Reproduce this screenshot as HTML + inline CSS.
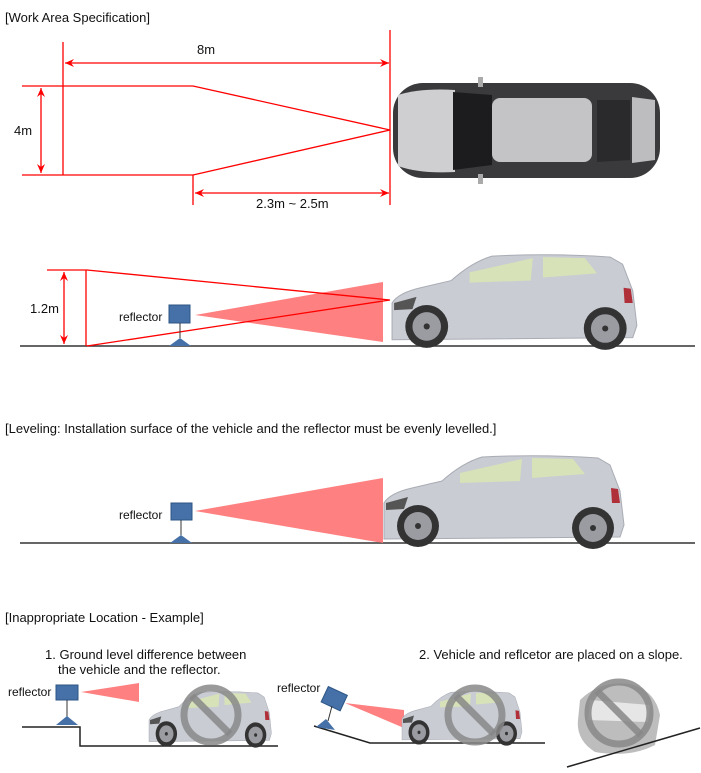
<!DOCTYPE html>
<html><head><meta charset="utf-8"><style>
html,body{margin:0;padding:0;background:#fff;}
svg{display:block;font-family:"Liberation Sans",sans-serif;}
</style></head><body>
<svg width="701" height="773" viewBox="0 0 701 773" xmlns="http://www.w3.org/2000/svg">
<defs>
<marker id="ah" markerWidth="10" markerHeight="8" refX="9" refY="4" orient="auto-start-reverse" markerUnits="userSpaceOnUse">
<path d="M0,0 L9,4 L0,8 L3,4 Z" fill="#f00"/></marker>
<g id="car">
<path d="M2,86 L2,50 Q8,40 30,35 L60,28 Q80,10 100,4 Q160,1 216,5 L228,12 L238,38 L242,72 L238,84 Z" fill="#c9ccd3" stroke="#a9acb4" stroke-width="1"/>
<path d="M78,20 L140,6 L138,28 L78,30 Z" fill="#d7e2b8"/>
<path d="M150,5 L191,6 L203,21 L150,25 Z" fill="#d7e2b8"/>
<path d="M229,35 L236,36 L238,50 L230,50 Z" fill="#b0303a"/>
<path d="M4,50 L26,44 L22,56 L4,57 Z" fill="#555"/>
<circle cx="36" cy="73" r="21" fill="#333"/><circle cx="36" cy="73" r="14" fill="#9a9ca2"/><circle cx="36" cy="73" r="3" fill="#333"/>
<circle cx="211" cy="75" r="21" fill="#333"/><circle cx="211" cy="75" r="14" fill="#9a9ca2"/><circle cx="211" cy="75" r="3" fill="#333"/>
</g>
</defs>
<g font-size="13" fill="#111">
<text x="5" y="22">[Work Area Specification]</text>
<text x="197" y="54">8m</text>
<text x="14" y="135">4m</text>
<text x="256" y="208">2.3m ~ 2.5m</text>
<text x="30" y="313">1.2m</text>
<text x="119" y="321" font-size="12">reflector</text>
<text x="5" y="433">[Leveling: Installation surface of the vehicle and the reflector must be evenly levelled.]</text>
<text x="119" y="519" font-size="12">reflector</text>
<text x="5" y="622">[Inappropriate Location - Example]</text>
<text x="45" y="659">1. Ground level difference between</text>
<text x="58" y="674">the vehicle and the reflector.</text>
<text x="419" y="659">2. Vehicle and reflcetor are placed on a slope.</text>
<text x="8" y="696" font-size="12">reflector</text>
<text x="277" y="692" font-size="12">reflector</text>
</g>
<!-- top view lines -->
<g stroke="#f00" stroke-width="1.3" fill="none">
<line x1="63" y1="42" x2="63" y2="175"/>
<line x1="390" y1="30" x2="390" y2="205"/>
<line x1="65" y1="63" x2="389" y2="63" marker-start="url(#ah)" marker-end="url(#ah)"/>
<polyline points="22,86 193,86 390,130 193,175 22,175"/>
<line x1="41" y1="88" x2="41" y2="173" marker-start="url(#ah)" marker-end="url(#ah)"/>
<line x1="193" y1="175" x2="193" y2="205"/>
<line x1="195" y1="193" x2="389" y2="193" marker-start="url(#ah)" marker-end="url(#ah)"/>
</g>
<!-- top view car -->
<g>
<rect x="393" y="83" width="267" height="95" rx="30" fill="#3a3a3c"/>
<path d="M398,95 Q420,88 455,90 L455,172 Q420,174 398,166 Z" fill="#cfcfd1"/>
<path d="M453,92 L492,95 L492,165 L453,170 Z" fill="#1c1c1e"/>
<rect x="492" y="98" width="100" height="64" rx="8" fill="#c4c4c6"/>
<path d="M597,100 L630,100 L630,160 L597,162 Z" fill="#2a2a2c"/>
<path d="M632,97 L655,100 L655,160 L632,163 Z" fill="#bdbdbf"/>
<rect x="478" y="77" width="5" height="10" fill="#aaa"/><rect x="478" y="174" width="5" height="10" fill="#aaa"/>
</g>
<!-- side view 1 -->
<line x1="20" y1="346" x2="695" y2="346" stroke="#333" stroke-width="1.5"/>
<polygon points="195,315 383,282 383,342" fill="#ff8080"/>
<g stroke="#f00" stroke-width="1.3" fill="none">
<polyline points="47,270 87,270 390,300 87,346"/>
<line x1="86" y1="270" x2="86" y2="346"/>
<line x1="64" y1="272" x2="64" y2="344" marker-start="url(#ah)" marker-end="url(#ah)"/>
</g>
<rect x="169" y="305" width="21" height="18" fill="#4571a8" stroke="#2d5585"/>
<line x1="180" y1="323" x2="180" y2="338" stroke="#333"/>
<polygon points="169,346 180,338 191,346" fill="#4571a8"/>
<use href="#car" transform="translate(390,252) scale(1.02,1.02)"/>
<!-- side view 2 -->
<line x1="20" y1="543" x2="695" y2="543" stroke="#333" stroke-width="1.5"/>
<polygon points="195,511 383,478 383,543" fill="#ff8080"/>
<rect x="171" y="503" width="21" height="17" fill="#4571a8" stroke="#2d5585"/>
<line x1="181" y1="520" x2="181" y2="535" stroke="#333"/>
<polygon points="170,543 181,535 192,543" fill="#4571a8"/>
<use href="#car" transform="translate(382,453)"/>
<!-- example 1 -->
<polyline points="22,727 80,727 80,746 278,746" fill="none" stroke="#222" stroke-width="1.5"/>
<rect x="56" y="685" width="22" height="15" fill="#4571a8" stroke="#2d5585"/>
<line x1="67" y1="700" x2="67" y2="717" stroke="#333"/>
<polygon points="56,725 67,716 78,725" fill="#4571a8"/>
<polygon points="81,692 139,683 139,702" fill="#ff8080"/>
<use href="#car" transform="translate(148,690) scale(0.51,0.6)"/>
<circle cx="211" cy="715" r="27" fill="none" stroke="#888" stroke-width="7" opacity="0.85"/>
<line x1="192" y1="696" x2="230" y2="734" stroke="#888" stroke-width="7" opacity="0.85"/>
<!-- example 2 -->
<polyline points="314,726 370,743 545,743" fill="none" stroke="#222" stroke-width="1.5"/>
<polygon points="345,703 404,710 404,728" fill="#ff8080"/>
<rect x="324" y="690" width="21" height="17" fill="#4571a8" stroke="#2d5585" transform="rotate(25 334 698)"/>
<line x1="332" y1="706" x2="328" y2="721" stroke="#333"/>
<polygon points="316,727 326,719 335,730" fill="#4571a8"/>
<use href="#car" transform="translate(401,690) scale(0.5,0.58)"/>
<circle cx="475" cy="715" r="27" fill="none" stroke="#888" stroke-width="7" opacity="0.85"/>
<line x1="456" y1="696" x2="494" y2="734" stroke="#888" stroke-width="7" opacity="0.85"/>
<!-- example 3 -->
<path d="M580,700 Q600,680 630,684 Q655,690 660,715 L655,745 Q630,758 595,752 Q576,740 578,720 Z" fill="#bdbdbd"/>
<path d="M590,700 L650,705 L648,722 L588,720 Z" fill="#e6e6e6"/>
<line x1="567" y1="767" x2="700" y2="728" stroke="#222" stroke-width="1.5"/>
<circle cx="619" cy="713" r="31" fill="none" stroke="#888" stroke-width="7" opacity="0.85"/>
<line x1="597" y1="691" x2="641" y2="735" stroke="#888" stroke-width="7" opacity="0.85"/>
</svg>
</body></html>
